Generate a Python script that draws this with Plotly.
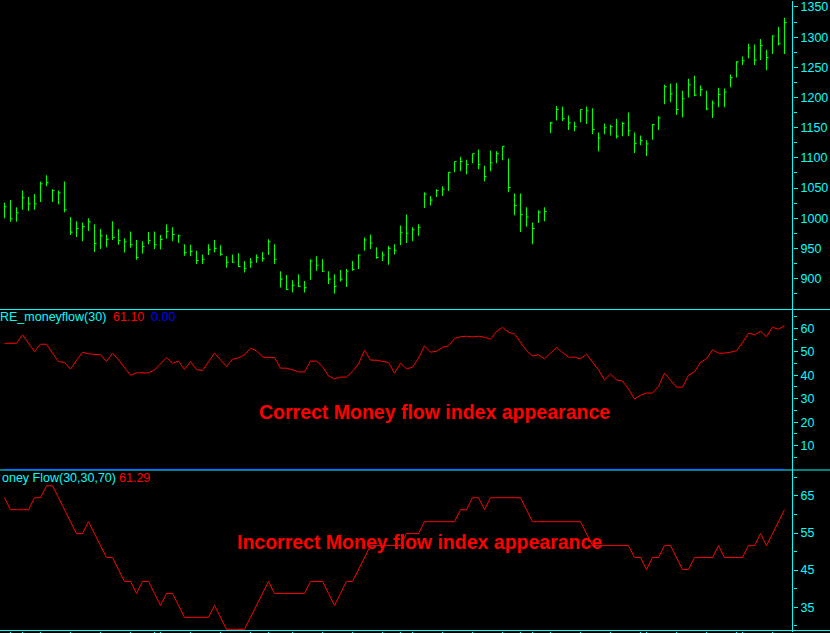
import plotly.graph_objects as go

# ---------------- data ----------------
bar_index = list(range(131))

price_high = [1026, 1030, 1018, 1046, 1035, 1040, 1061, 1071, 1048, 1046,
              1061, 1002, 995, 993, 1000, 990, 982, 973, 995, 982,
              967, 978, 964, 962, 977, 978, 972, 990, 985, 973,
              957, 956, 946, 940, 957, 964, 955, 937, 940, 942,
              929, 934, 940, 944, 965, 957, 912, 906, 897, 907,
              896, 932, 937, 932, 912, 907, 914, 916, 929, 940,
              968, 973, 952, 945, 954, 957, 988, 1006, 985, 990,
              1043, 1037, 1048, 1053, 1076, 1094, 1102, 1097, 1107, 1114,
              1087, 1112, 1111, 1119, 1099, 1041, 1041, 1018, 993, 1013,
              1018, 1160, 1186, 1185, 1170, 1160, 1180, 1185, 1182, 1142,
              1157, 1155, 1165, 1160, 1175, 1142, 1137, 1129, 1156, 1169,
              1221, 1223, 1224, 1211, 1231, 1236, 1220, 1211, 1195, 1216,
              1215, 1238, 1260, 1268, 1289, 1288, 1297, 1279, 1303, 1317, 1332]

price_low = [1000, 994, 994, 1014, 1012, 1014, 1027, 1053, 1027, 1023,
             1010, 972, 969, 962, 979, 944, 949, 952, 964, 956,
             943, 951, 931, 941, 957, 949, 948, 966, 962, 959,
             938, 937, 924, 924, 939, 943, 938, 918, 926, 919,
             910, 918, 926, 928, 939, 924, 885, 881, 877, 886,
             877, 898, 913, 911, 891, 875, 895, 886, 913, 916,
             946, 949, 933, 929, 923, 940, 955, 959, 962, 971,
             1017, 1021, 1035, 1037, 1045, 1076, 1078, 1073, 1091, 1081,
             1061, 1078, 1091, 1096, 1043, 1005, 977, 986, 957, 992,
             995, 1141, 1162, 1161, 1146, 1144, 1159, 1156, 1139, 1111,
             1139, 1137, 1132, 1136, 1136, 1108, 1121, 1103, 1130, 1146,
             1189, 1192, 1171, 1167, 1200, 1202, 1202, 1179, 1166, 1184,
             1184, 1217, 1233, 1254, 1265, 1254, 1262, 1245, 1272, 1286, 1272]

price_close = [1019, 999, 1009, 1034, 1024, 1024, 1057, 1059, 1046, 1042,
               1014, 977, 983, 986, 994, 958, 971, 965, 968, 963,
               961, 956, 935, 953, 963, 956, 965, 978, 973, 971,
               943, 945, 930, 932, 948, 950, 940, 927, 927, 920,
               917, 927, 935, 933, 961, 932, 899, 882, 889, 887,
               885, 929, 922, 912, 899, 887, 899, 912, 915, 939,
               964, 959, 935, 939, 950, 947, 976, 975, 981, 985,
               1040, 1030, 1046, 1048, 1076, 1094, 1094, 1089, 1107, 1089,
               1069, 1092, 1107, 1119, 1051, 1021, 1006, 1002, 983, 1010,
               1011, 1158, 1180, 1165, 1158, 1152, 1180, 1178, 1147, 1133,
               1150, 1152, 1136, 1157, 1145, 1124, 1129, 1123, 1155, 1166,
               1218, 1206, 1180, 1198, 1221, 1204, 1213, 1181, 1191, 1205,
               1209, 1233, 1259, 1261, 1282, 1262, 1286, 1266, 1302, 1289, 1324]

mfi_correct = [53.6, 53.6, 53.6, 57.2, 53.6, 50.1, 53.2, 53.2, 49.4, 45.8,
               45.4, 42.6, 46.3, 49.8, 49.1, 48.8, 48.7, 45.8, 49.4, 46.5,
               43.0, 40.0, 41.0, 41.0, 41.0, 42.2, 44.7, 47.5, 45.1, 46.0,
               42.4, 45.8, 42.4, 42.0, 45.7, 49.4, 46.5, 43.7, 46.8, 47.4,
               48.7, 51.5, 50.4, 47.8, 47.5, 47.5, 43.0, 43.0, 42.3, 41.4,
               41.4, 46.0, 46.0, 43.7, 39.7, 38.5, 39.2, 39.2, 41.6, 44.8,
               50.6, 46.4, 46.4, 45.8, 45.4, 40.9, 45.1, 42.7, 43.4, 47.2,
               52.5, 49.8, 50.2, 51.9, 52.5, 55.6, 56.4, 56.6, 56.3, 56.6,
               56.2, 55.3, 58.6, 60.4, 58.3, 57.6, 53.9, 50.5, 48.2, 48.7,
               47.0, 49.4, 51.8, 49.7, 47.7, 47.7, 47.0, 48.9, 45.8, 42.3,
               38.0, 40.5, 38.0, 37.5, 34.1, 29.8, 31.5, 32.4, 32.4, 35.2,
               40.9, 37.9, 34.9, 34.9, 40.0, 41.4, 45.5, 47.0, 50.8, 49.4,
               49.4, 49.8, 50.4, 53.9, 57.9, 57.2, 58.7, 56.4, 60.4, 59.6, 61.1]

signal_value = 0.00

mfi_incorrect = [64.52, 61.29, 61.29, 61.29, 61.29, 64.52, 64.52, 67.74, 67.74, 64.52,
                 61.29, 58.06, 54.84, 54.84, 58.06, 54.84, 51.61, 48.39, 48.39, 45.16,
                 41.94, 41.94, 38.71, 41.94, 41.94, 38.71, 35.48, 38.71, 38.71, 35.48,
                 32.26, 32.26, 32.26, 32.26, 32.26, 35.48, 32.26, 29.03, 29.03, 29.03,
                 29.03, 32.26, 35.48, 38.71, 41.94, 38.71, 38.71, 38.71, 38.71, 38.71,
                 38.71, 41.94, 41.94, 41.94, 38.71, 35.48, 38.71, 41.94, 41.94, 45.16,
                 48.39, 51.61, 51.61, 51.61, 51.61, 51.61, 51.61, 54.84, 54.84, 54.84,
                 58.06, 58.06, 58.06, 58.06, 58.06, 58.06, 61.29, 61.29, 64.52, 64.52,
                 61.29, 64.52, 64.52, 64.52, 64.52, 64.52, 64.52, 61.29, 58.06, 58.06,
                 58.06, 58.06, 58.06, 58.06, 58.06, 58.06, 58.06, 54.84, 51.61, 51.61,
                 51.61, 51.61, 51.61, 51.61, 51.61, 48.39, 48.39, 45.16, 48.39, 48.39,
                 51.61, 51.61, 48.39, 45.16, 45.16, 48.39, 48.39, 48.39, 48.39, 51.61,
                 48.39, 48.39, 48.39, 48.39, 51.61, 51.61, 54.84, 51.61, 54.84, 58.06, 61.29]

date_ticks = [1, 3, 6, 11, 16, 21, 25, 26, 31, 36, 41, 44, 48, 53, 58, 63, 66, 68,
              73, 78, 83, 86, 88, 91, 96, 101, 106, 107, 112, 117, 122, 123, 128]

price_ticks = [900, 950, 1000, 1050, 1100, 1150, 1200, 1250, 1300, 1350]
price_minor = [875, 925, 975, 1025, 1075, 1125, 1175, 1225, 1275, 1325]
mid_ticks = [10, 20, 30, 40, 50, 60]
mid_minor = [5, 15, 25, 35, 45, 55, 65]
low_ticks = [35, 45, 55, 65]
low_minor = [30, 40, 50, 60, 70]

# ---------------- styling ----------------
W, H = 830, 633
PLOT_W = 793
CYAN = "#00ffff"
GREEN = "#00ff00"
RED = "#ff0000"
BLUE = "#0000ff"
FONT = "Liberation Sans"

def py(px):
    return 1 - px / H

# build bar segments (high-low vertical + close tick to the right)
bx, by = [], []
for k, hi, lo, cl in zip(bar_index, price_high, price_low, price_close):
    bx += [k, k, None, k, k + 0.34, None]
    by += [lo, hi, None, cl, cl, None]

fig = go.Figure()
fig.add_trace(go.Scatter(x=bx, y=by, mode="lines", line=dict(color=GREEN, width=1.1),
                         xaxis="x", yaxis="y", hoverinfo="skip", showlegend=False))
fig.add_trace(go.Scatter(x=bar_index, y=[signal_value] * len(bar_index), mode="lines",
                         line=dict(color=BLUE, width=1), xaxis="x2", yaxis="y2",
                         hoverinfo="skip", showlegend=False))
fig.add_trace(go.Scatter(x=bar_index, y=mfi_correct, mode="lines",
                         line=dict(color=RED, width=1), xaxis="x2", yaxis="y2",
                         hoverinfo="skip", showlegend=False))
fig.add_trace(go.Scatter(x=bar_index, y=mfi_incorrect, mode="lines",
                         line=dict(color=RED, width=1), xaxis="x3", yaxis="y3",
                         hoverinfo="skip", showlegend=False))

xr = [-4.5 / 6, (PLOT_W - 4.5) / 6]
xcommon = dict(range=xr, showgrid=False, zeroline=False, showticklabels=False,
               showline=False, fixedrange=True)

def yaxis(domain, rng, ticks, minor, anchor):
    return dict(domain=domain, range=rng, side="right", anchor=anchor,
                showgrid=False, zeroline=False, showline=False,
                tickmode="array", tickvals=ticks, ticktext=[str(t) for t in ticks],
                ticks="outside", ticklen=4, tickwidth=1, tickcolor=CYAN,
                ticklabeloverflow="allow",
                tickfont=dict(family=FONT, size=12.5, color=CYAN),
                minor=dict(tickvals=minor, ticks="outside", ticklen=3,
                           tickwidth=1, tickcolor=CYAN, showgrid=False),
                fixedrange=True)

d_top = [py(309.5), 1.0]
d_mid = [py(470.5), py(309.5)]
d_low = [py(631.5), py(470.5)]

fig.update_layout(
    width=W, height=H,
    margin=dict(l=0, r=W - PLOT_W, t=0, b=0, pad=0),
    paper_bgcolor="black", plot_bgcolor="black",
    showlegend=False,
    xaxis=dict(domain=[0, 1], anchor="y", **xcommon),
    xaxis2=dict(domain=[0, 1], anchor="y2", **xcommon),
    xaxis3=dict(domain=[0, 1], anchor="y3", ticks="outside", ticklen=2, tickwidth=1,
                tickcolor=CYAN, tickmode="array", tickvals=date_ticks,
                **xcommon),
    yaxis=yaxis(d_top, [848.7, 1359.9], price_ticks, price_minor, "x"),
    yaxis2=yaxis(d_mid, [-0.38, 67.98], mid_ticks, mid_minor, "x2"),
    yaxis3=yaxis(d_low, [28.71, 71.99], low_ticks, low_minor, "x3"),
)

xe = W / PLOT_W
line = dict(color=CYAN, width=1)
for ypx in (309.5, 470.5, 631.5):
    fig.add_shape(type="line", xref="paper", yref="paper", x0=0, x1=xe,
                  y0=py(ypx), y1=py(ypx), line=line, layer="above")
fig.add_shape(type="line", xref="paper", yref="paper", x0=792.5 / PLOT_W, x1=792.5 / PLOT_W,
              y0=0, y1=1, line=line, layer="above")

def label(text, xpx, ypx, color, size=12.5, bold=False, anchor="left"):
    fig.add_annotation(text=("<b>%s</b>" % text) if bold else text,
                       xref="paper", yref="paper", x=xpx / PLOT_W, y=py(ypx),
                       xanchor=anchor, yanchor="middle", showarrow=False,
                       font=dict(family=FONT, size=size, color=color),
                       borderpad=0, borderwidth=0)

label("RE_moneyflow(30)", 0, 317.5, CYAN)
label("61.10", 112.5, 317.5, RED)
label("0.00", 151, 317.5, BLUE)
label("oney Flow(30,30,70)", 1.5, 479, CYAN)
label("61.29", 119, 479, RED)
label("Correct Money flow index appearance", 434, 412.5, RED, size=19.5, bold=True, anchor="center")
label("Incorrect Money flow index appearance", 419.5, 543, RED, size=19.5, bold=True, anchor="center")

fig.write_html("out.html", config={"displayModeBar": False},
               post_script="document.body.style.margin='0px';")
